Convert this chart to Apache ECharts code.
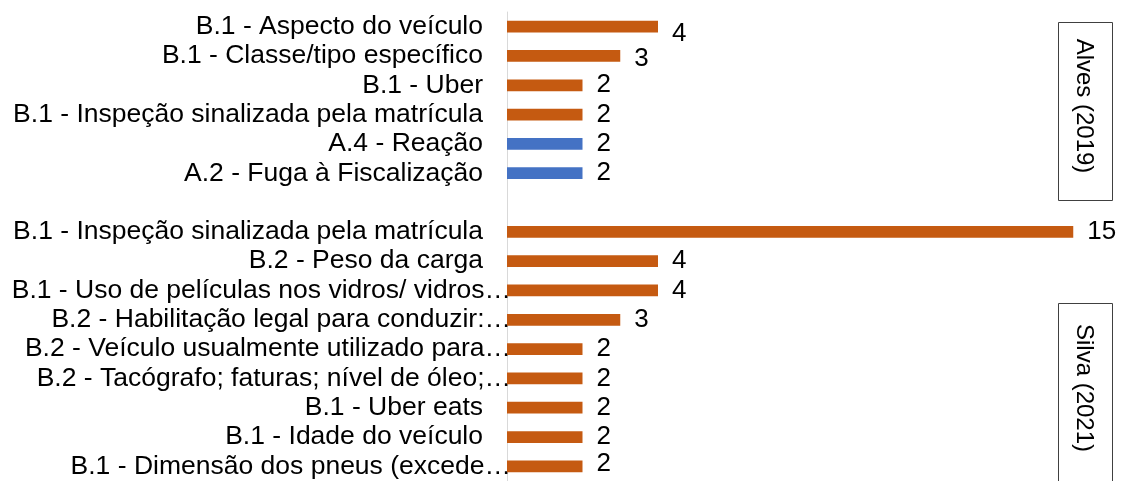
<!DOCTYPE html>
<html>
<head>
<meta charset="utf-8">
<script src="https://cdn.jsdelivr.net/npm/echarts@6/dist/echarts.min.js"></script>
<style>
  html, body { margin: 0; padding: 0; background: #fff; }
  #chart { width: 1121px; height: 481px; }
</style>
</head>
<body>
<div id="chart"></div>
<script>
// categories top to bottom; '' is the gap between the two studies
const categories = [
  'B.1 - Aspecto do veículo',
  'B.1 - Classe/tipo específico',
  'B.1 - Uber',
  'B.1 - Inspeção sinalizada pela matrícula',
  'A.4 - Reação',
  'A.2 - Fuga à Fiscalização',
  '',
  'B.1 - Inspeção sinalizada pela matrícula',
  'B.2 - Peso da carga',
  'B.1 - Uso de películas nos vidros/ vidros…',
  'B.2 - Habilitação legal para conduzir:…',
  'B.2 - Veículo usualmente utilizado para…',
  'B.2 - Tacógrafo; faturas; nível de óleo;…',
  'B.1 - Uber eats',
  'B.1 - Idade do veículo',
  'B.1 - Dimensão dos pneus (excede…'
];
const counts = [4, 3, 2, 2, 2, 2, null, 15, 4, 4, 3, 2, 2, 2, 2, 2];
const studies = ['Alves (2019)', 'Silva (2021)'];

const FONT = "'Liberation Sans', Arial, sans-serif";
const ORANGE = '#C55A11';
const BLUE = '#4472C4';

// small vertical nudges of a few value labels, as in the original
const labelShift = { 0: 7, 1: 3, 15: -3 };

const seriesData = counts.map((v, i) => {
  const item = { value: v };
  if (labelShift[i]) item.label = { offset: [0, labelShift[i]] };
  return item;
});

const chart = echarts.init(document.getElementById('chart'));

const option = {
  animation: false,
  grid: { left: 507, right: 10, top: 12, height: 472.5 },
  xAxis: {
    type: 'value',
    min: 0,
    max: 16,
    show: false,
    splitLine: { show: false }
  },
  yAxis: {
    type: 'category',
    data: categories,
    inverse: true,
    axisTick: { show: false },
    axisLine: { lineStyle: { color: '#d9d9d9', width: 1 } },
    axisLabel: {
      interval: 0,
      margin: -4,
      formatter: v => v.endsWith('…') ? '{t|' + v + '}' : '{f|' + v + '}',
      rich: {
        f: { fontSize: 26.5, fontFamily: FONT, color: '#000', padding: [0, 28, 0, 0] },
        t: { fontSize: 26.5, fontFamily: FONT, color: '#000' }
      }
    }
  },
  series: [
    {
      type: 'bar',
      data: seriesData,
      barWidth: '40%',
      itemStyle: {
        color: p => categories[p.dataIndex].startsWith('A.') ? BLUE : ORANGE
      },
      label: {
        show: true,
        position: 'right',
        distance: 14,
        color: '#000',
        fontSize: 26,
        fontFamily: FONT
      }
    }
  ],
  graphic: [
    {
      type: 'rect',
      shape: { x: 1058.5, y: 22.5, width: 54, height: 178 },
      style: { fill: '#fff', stroke: '#404040', lineWidth: 1 }
    },
    {
      type: 'text',
      x: 1084,
      y: 106,
      rotation: -Math.PI / 2,
      style: {
        text: studies[0],
        fontSize: 24,
        fontFamily: FONT,
        fill: '#000',
        align: 'center',
        verticalAlign: 'middle'
      }
    },
    {
      type: 'rect',
      shape: { x: 1058.5, y: 303.5, width: 54, height: 200 },
      style: { fill: '#fff', stroke: '#404040', lineWidth: 1 }
    },
    {
      type: 'text',
      x: 1084,
      y: 388,
      rotation: -Math.PI / 2,
      style: {
        text: studies[1],
        fontSize: 24,
        fontFamily: FONT,
        fill: '#000',
        align: 'center',
        verticalAlign: 'middle'
      }
    }
  ]
};

chart.setOption(option);
window.addEventListener('resize', () => chart.resize());
</script>
</body>
</html>
